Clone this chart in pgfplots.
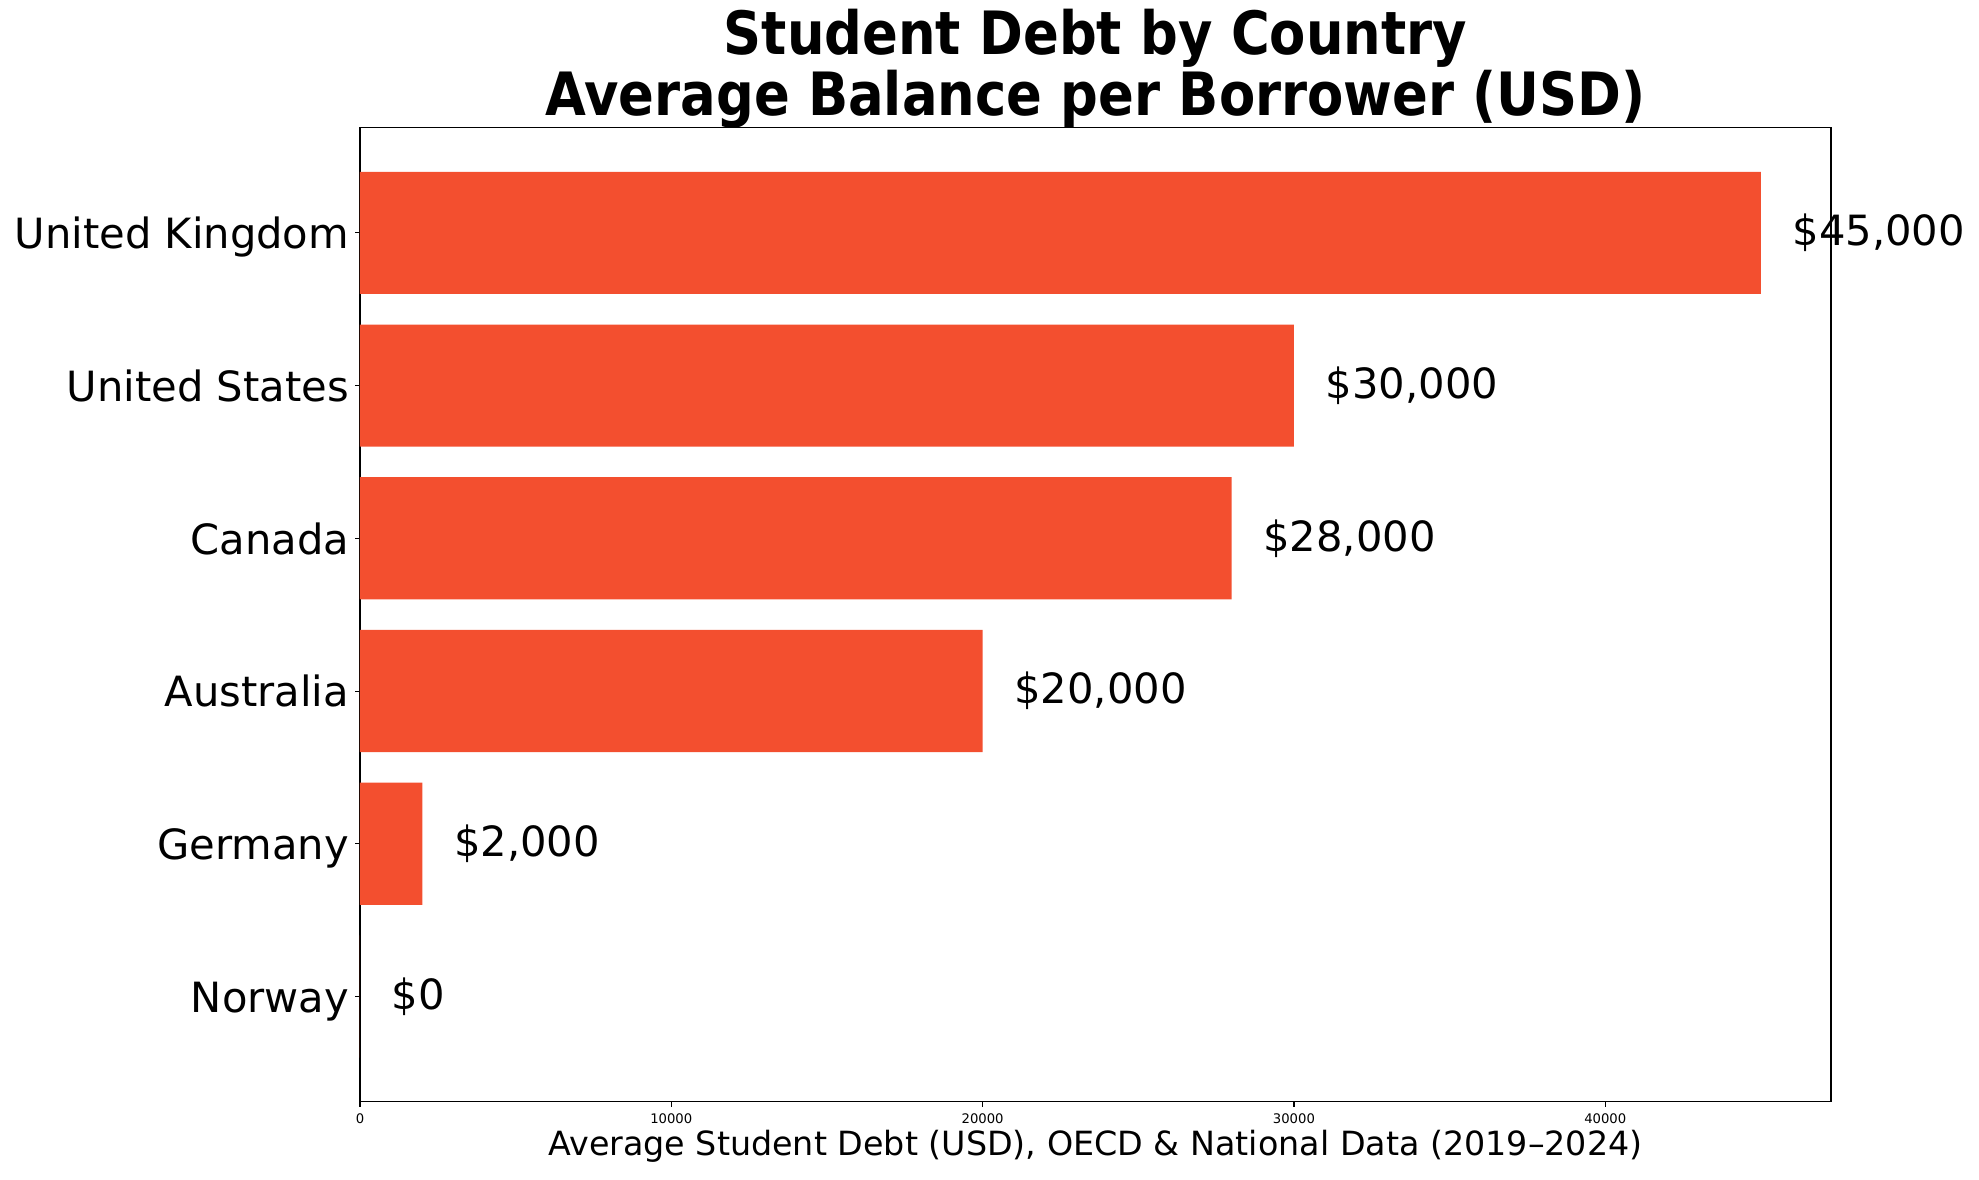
\documentclass[border=0pt]{standalone}
\usepackage{pgfplots}
\usepackage{pgfplotstable}
\pgfplotsset{compat=1.18}
\usepackage{fontspec}
\setmainfont{DejaVu Sans}
\newfontfamily\titlefont{DejaVu Sans}[FakeStretch=0.884]
\definecolor{barc}{RGB}{243,79,47}
\pgfplotstableread{
y value label
0 0 \$0
1 2000 \$2,000
2 20000 \$20,000
3 28000 \$28,000
4 30000 \$30,000
5 45000 \$45,000
}\debt
\begin{document}
\begin{tikzpicture}
\useasboundingbox (-259.2bp,-56.2bp) rectangle (1165.7bp,793.4bp);
\begin{axis}[
  scale only axis,
  width=1059.1bp, height=701.6bp,
  xmin=0, xmax=47250,
  ymin=-0.69, ymax=5.69,
  xtick={0,10000,20000,30000,40000},
  scaled ticks=false,
  /pgf/number format/1000 sep={},
  /pgf/number format/assume math mode=true,
  ytick={0,1,2,3,4,5},
  yticklabels={Norway,Germany,Australia,Canada,United States,United Kingdom},
  xtick pos=bottom, ytick pos=left,
  tick align=outside,
  major tick length=3.5bp,
  tick style={black, line width=0.8bp},
  axis line style={black, line width=0.8bp},
  yticklabel style={font=\fontsize{30bp}{36bp}\selectfont, inner sep=0pt, anchor=base east, xshift=-4.2bp, yshift=-11.3bp},
  xticklabel style={font=\fontsize{9.5bp}{11.4bp}\selectfont, inner sep=0pt, anchor=north, yshift=-5bp},
  xlabel={Average Student Debt (USD), OECD \& National Data (2019–2024)},
  xlabel style={font=\fontsize{24bp}{28.8bp}\selectfont, at={(axis description cs:0.5,0)}, anchor=north, inner sep=0pt, yshift=-20bp},
  title={Student Debt by Country\\Average Balance per Borrower (USD)},
  title style={font=\titlefont\bfseries\fontsize{43bp}{44bp}\selectfont, align=center, at={(axis description cs:0.5,1)}, anchor=south, inner sep=0pt, yshift=-7bp},
  clip=false,
]
\addplot[xbar, bar width=0.8, fill=barc, draw=none,
  nodes near coords, point meta=explicit symbolic,
  nodes near coords style={font=\fontsize{30bp}{36bp}\selectfont, anchor=west, inner sep=0pt, xshift=22.7bp, text=black}]
  table[x=value, y=y, meta=label] {\debt};
\end{axis}
\end{tikzpicture}
\end{document}
